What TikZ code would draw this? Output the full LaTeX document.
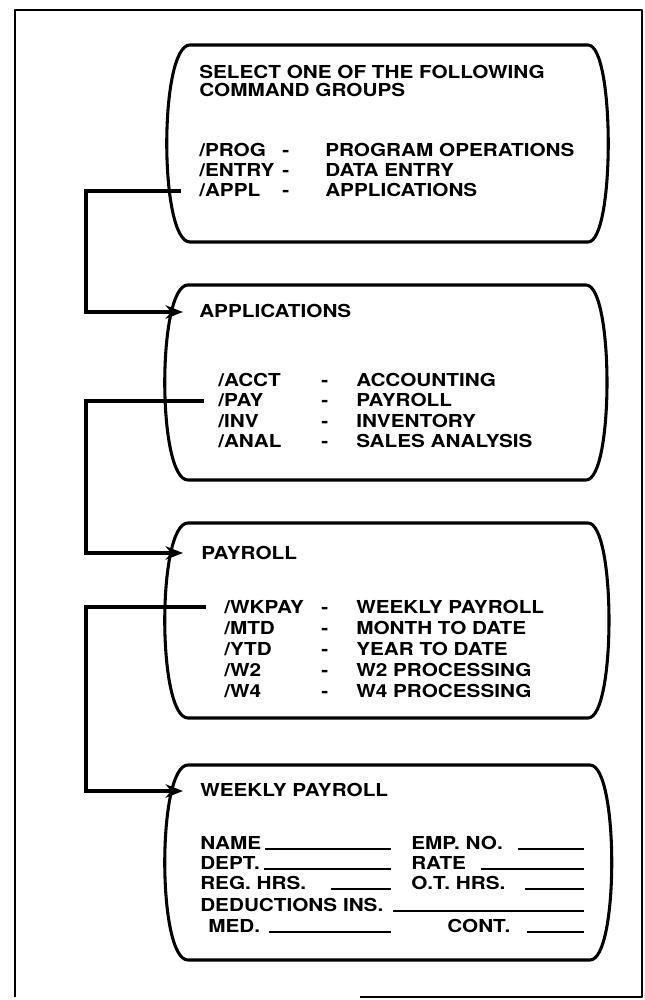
\documentclass[tikz,border=0pt]{standalone}
\usepackage{fontspec}
\setmainfont{TeX Gyre Heros}[FakeStretch=1.16]
\usetikzlibrary{arrows.meta}
\newcommand\screenbox[6]{%
  \draw[boxline] (#3,#1) -- (#4,#1) .. controls (#4+#6,#1) and (#4+#6,#2) .. (#4,#2)
    -- (#3,#2) .. controls (#3-#5,#2) and (#3-#5,#1) .. (#3,#1) -- cycle;}
\begin{document}
\begin{tikzpicture}[x=0.75pt,y=-0.75pt,
  frame/.style={line width=1.8pt, line join=round},
  boxline/.style={line width=2.3pt, line join=round},
  conn/.style={line width=2.6pt},
  arr/.style={conn,-{Stealth[length=13pt,width=10pt,inset=4pt]}},
  txt/.style={anchor=base west, inner sep=0pt, font=\fontsize{13.4pt}{15pt}\selectfont\bfseries},
  blank/.style={line width=1.3pt}]
\useasboundingbox (0,0) rectangle (645,1000);
% outer frame
\draw[frame] (360,997) -- (642,997) -- (642,10) -- (15,10) -- (15,997);
% screens
\screenbox{45}{242}{190}{588}{31}{27}
\screenbox{285}{480}{188}{586}{31}{28}
\screenbox{523}{718}{188}{588}{31}{28}
\screenbox{765}{960}{188}{590}{31}{29}
% box 1
\node[txt] (t1a) at (199,78) {SELECT ONE OF THE FOLLOWING};
\node[txt] (t1b) at (199,96.5) {COMMAND GROUPS};
\node[txt] (p1c) at (199,156) {/PROG};
\node[txt] (p1d) at (282,156) {-};
\node[txt] (p1e) at (325,156) {PROGRAM OPERATIONS};
\node[txt] (e1c) at (199,176) {/ENTRY};
\node[txt] (e1d) at (282,176) {-};
\node[txt] (e1e) at (325,176) {DATA ENTRY};
\node[txt] (a1c) at (199,196) {/APPL};
\node[txt] (a1d) at (282,196) {-};
\node[txt] (a1e) at (325,196) {APPLICATIONS};
% box 2
\node[txt] (t2) at (199,317) {APPLICATIONS};
\node[txt] (r2a) at (218,386) {/ACCT};
\node[txt] at (321,386) {-};
\node[txt] at (356,386) {ACCOUNTING};
\node[txt] (r2b) at (218,406.5) {/PAY};
\node[txt] at (321,406.5) {-};
\node[txt] at (356,406.5) {PAYROLL};
\node[txt] (r2c) at (218,427) {/INV};
\node[txt] at (321,427) {-};
\node[txt] at (356,427) {INVENTORY};
\node[txt] (r2d) at (218,447.5) {/ANAL};
\node[txt] at (321,447.5) {-};
\node[txt] at (356,447.5) {SALES ANALYSIS};
% box 3
\node[txt] (t3) at (201,559) {PAYROLL};
\node[txt] (r3a) at (224,613) {/WKPAY};
\node[txt] at (321,613) {-};
\node[txt] at (356,613) {WEEKLY PAYROLL};
\node[txt] (r3b) at (224,634) {/MTD};
\node[txt] at (321,634) {-};
\node[txt] at (356,634) {MONTH TO DATE};
\node[txt] (r3c) at (224,655) {/YTD};
\node[txt] at (321,655) {-};
\node[txt] at (356,655) {YEAR TO DATE};
\node[txt] (r3d) at (224,676) {/W2};
\node[txt] at (321,676) {-};
\node[txt] at (356,676) {W2 PROCESSING};
\node[txt] (r3e) at (224,697) {/W4};
\node[txt] at (321,697) {-};
\node[txt] at (356,697) {W4 PROCESSING};
% box 4
\node[txt] (t4) at (200,796) {WEEKLY PAYROLL};
\node[txt] (f1) at (200,849) {NAME};
\draw[blank] (265,849) -- (391,849);
\node[txt] (f2) at (411,849) {EMP. NO.};
\draw[blank] (518,849) -- (584,849);
\node[txt] (f3) at (200,869) {DEPT.};
\draw[blank] (264,869) -- (391,869);
\node[txt] (f4) at (411,869) {RATE};
\draw[blank] (481,869) -- (584,869);
\node[txt] (f5) at (200,889) {REG. HRS.};
\draw[blank] (331,889) -- (391,889);
\node[txt] (f6) at (411,889) {O.T. HRS.};
\draw[blank] (525,889) -- (584,889);
\node[txt] (f7) at (200,911) {DEDUCTIONS INS.};
\draw[blank] (393,911) -- (584,911);
\node[txt] (f8) at (208,932) {MED.};
\draw[blank] (269,932) -- (391,932);
\node[txt] (f9) at (447,932) {CONT.};
\draw[blank] (527,932) -- (584,932);
% connectors
\coordinate (s1) at (181,191);
\coordinate (v1) at (86,191);
\coordinate (h2) at (183,312);
\draw[arr] (s1) -- (v1) |- (h2);
\coordinate (s2) at (204,401);
\coordinate (v2) at (86,401);
\coordinate (h3) at (183,553);
\draw[arr] (s2) -- (v2) |- (h3);
\coordinate (s3) at (206,607);
\coordinate (v3) at (86,607);
\coordinate (h4) at (183,791);
\draw[arr] (s3) -- (v3) |- (h4);
\end{tikzpicture}
\end{document}
